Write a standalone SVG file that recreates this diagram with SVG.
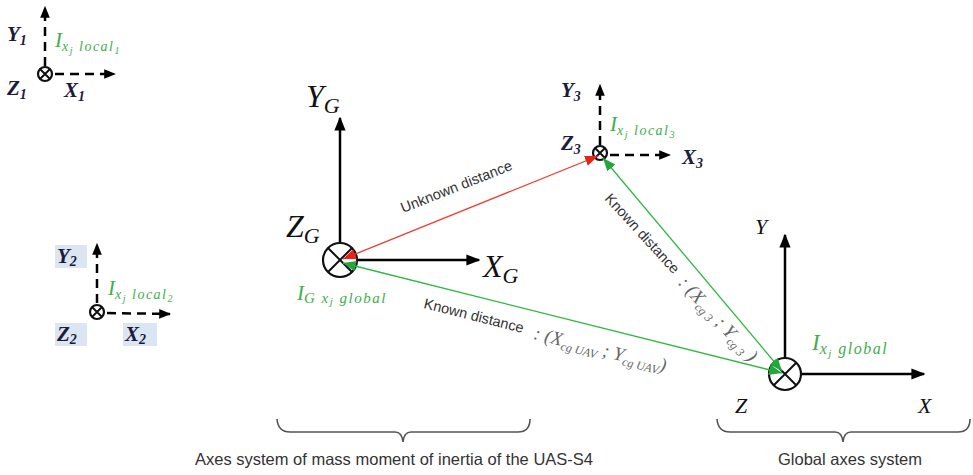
<svg xmlns="http://www.w3.org/2000/svg" width="973" height="475" viewBox="0 0 973 475">
<style>
.ax{stroke:#000;stroke-width:2.5;fill:none}
.axd{stroke:#000;stroke-width:2.5;fill:none;stroke-dasharray:9 6}
.sym{stroke:#111;stroke-width:2.2;fill:#fff}
.symx{stroke:#111;stroke-width:2;fill:none}
.lbl{font-family:"Liberation Serif",serif;font-style:italic;font-weight:bold;fill:#1c1c3a}
.big{font-family:"Liberation Serif",serif;font-style:italic;fill:#111}
.ilbl{font-family:"Liberation Serif",serif;font-style:italic;fill:#3fae49}
.sub{letter-spacing:1.5px}
.box{fill:#dbe6f2}
.dist{font-family:"Liberation Sans",Arial,sans-serif;font-size:14.5px;fill:#333}
.par{font-family:"Liberation Serif",serif;font-style:italic;fill:#666}
.cap{font-family:"Liberation Sans",Arial,sans-serif;font-size:16.5px;fill:#333}
.brace{stroke:#555;stroke-width:1.6;fill:none}
</style>
<defs>
<marker id="ah" viewBox="0 0 10 10" refX="9" refY="5" markerWidth="14" markerHeight="14" markerUnits="userSpaceOnUse" orient="auto"><path d="M0,1 L10,5 L0,9 z" fill="#000"/></marker>
<marker id="ahs" viewBox="0 0 10 10" refX="9" refY="5" markerWidth="12" markerHeight="12" markerUnits="userSpaceOnUse" orient="auto"><path d="M0,1 L10,5 L0,9 z" fill="#000"/></marker>
<marker id="ar" viewBox="0 0 10 10" refX="10" refY="5" markerWidth="13" markerHeight="13" markerUnits="userSpaceOnUse" orient="auto-start-reverse"><path d="M0,1 L10,5 L0,9 z" fill="#e8231c"/></marker>
<marker id="ag" viewBox="0 0 10 10" refX="10" refY="5" markerWidth="13" markerHeight="13" markerUnits="userSpaceOnUse" orient="auto-start-reverse"><path d="M0,1 L10,5 L0,9 z" fill="#22a83a"/></marker>
</defs>
<rect width="973" height="475" fill="#fff"/>

<g id="local1">
<line class="axd" x1="45" y1="66" x2="45" y2="7" marker-end="url(#ahs)"/>
<line class="axd" x1="55" y1="74" x2="115" y2="74" marker-end="url(#ahs)"/>
<circle class="sym" cx="45" cy="74" r="7"/>
<path class="symx" d="M40,69 L50,79 M50,69 L40,79"/>
<text class="lbl" x="7" y="41" font-size="21">Y<tspan font-size="14" dy="4">1</tspan></text>
<text class="lbl" x="7" y="95" font-size="21">Z<tspan font-size="14" dy="4">1</tspan></text>
<text class="lbl" x="64" y="97" font-size="21">X<tspan font-size="14" dy="4">1</tspan></text>
<text class="ilbl" x="55" y="47" font-size="21">I<tspan class="sub" font-size="14" dy="4">x<tspan font-size="10" dy="3">j</tspan><tspan dy="-3"> local</tspan><tspan font-size="10" dy="3">1</tspan></tspan></text>
</g>

<g id="local2">
<rect class="box" x="55" y="245" width="32" height="23"/>
<rect class="box" x="55" y="323" width="32" height="23"/>
<rect class="box" x="123" y="323" width="34" height="23"/>
<line class="axd" x1="97" y1="303" x2="97" y2="244" marker-end="url(#ahs)"/>
<line class="axd" x1="107" y1="313" x2="170" y2="314" marker-end="url(#ahs)"/>
<circle class="sym" cx="97" cy="312" r="7"/>
<path class="symx" d="M92,307 L102,317 M102,307 L92,317"/>
<text class="lbl" x="57" y="263" font-size="21">Y<tspan font-size="14" dy="3">2</tspan></text>
<text class="lbl" x="57" y="341" font-size="21">Z<tspan font-size="14" dy="3">2</tspan></text>
<text class="lbl" x="125" y="341" font-size="21">X<tspan font-size="14" dy="3">2</tspan></text>
<text class="ilbl" x="108" y="295" font-size="21">I<tspan class="sub" font-size="14" dy="4">x<tspan font-size="10" dy="3">j</tspan><tspan dy="-3"> local</tspan><tspan font-size="10" dy="3">2</tspan></tspan></text>
</g>

<g id="local3">
<line class="axd" x1="600" y1="145" x2="600" y2="85" marker-end="url(#ahs)"/>
<line class="axd" x1="610" y1="155" x2="670" y2="155" marker-end="url(#ahs)"/>
<circle class="sym" cx="600" cy="153" r="7"/>
<path class="symx" d="M595,148 L605,158 M605,148 L595,158"/>
<text class="lbl" x="561" y="97" font-size="21">Y<tspan font-size="14" dy="4">3</tspan></text>
<text class="lbl" x="561" y="150" font-size="21">Z<tspan font-size="14" dy="4">3</tspan></text>
<text class="lbl" x="682" y="164" font-size="21">X<tspan font-size="14" dy="4">3</tspan></text>
<text class="ilbl" x="610" y="131" font-size="21">I<tspan class="sub" font-size="14" dy="4">x<tspan font-size="10" dy="3">j</tspan><tspan dy="-3"> local</tspan><tspan font-size="10" dy="3">3</tspan></tspan></text>
</g>

<g id="frameG">
<line class="ax" x1="340" y1="243" x2="340" y2="118" marker-end="url(#ah)"/>
<line class="ax" x1="357" y1="260" x2="479" y2="260" marker-end="url(#ah)"/>
<circle class="sym" cx="340" cy="260" r="17"/>
<path class="symx" d="M328,248 L352,272 M352,248 L328,272"/>
<text class="big" x="306" y="107" font-size="32">Y<tspan font-size="22" dy="6">G</tspan></text>
<text class="big" x="286" y="237" font-size="32">Z<tspan font-size="22" dy="6">G</tspan></text>
<text class="big" x="483" y="277" font-size="32">X<tspan font-size="22" dy="6">G</tspan></text>
<text class="ilbl" x="297" y="300" font-size="21">I<tspan class="sub" font-size="15" dy="3">G x<tspan font-size="11" dy="2">j</tspan><tspan dy="-2"> global</tspan></tspan></text>
</g>

<g id="frameGlobal">
<line class="ax" x1="785" y1="358" x2="785" y2="235" marker-end="url(#ah)"/>
<line class="ax" x1="801" y1="374" x2="924" y2="374" marker-end="url(#ah)"/>
<circle class="sym" cx="785" cy="374" r="16"/>
<path class="symx" d="M774,363 L796,385 M796,363 L774,385"/>
<text class="big" x="755" y="234" font-size="22">Y</text>
<text class="big" x="735" y="413" font-size="22">Z</text>
<text class="big" x="918" y="413" font-size="22">X</text>
<text class="ilbl" x="812" y="350" font-size="23">I<tspan class="sub" font-size="16" dy="4">x<tspan font-size="11" dy="3">j</tspan><tspan dy="-3"> global</tspan></tspan></text>
</g>

<g id="connectors">
<line x1="343" y1="259" x2="598" y2="156" stroke="#f03a2c" stroke-width="1.3" marker-start="url(#ar)" marker-end="url(#ar)"/>
<line x1="343" y1="263" x2="782" y2="373" stroke="#2fb640" stroke-width="1.3" marker-start="url(#ag)" marker-end="url(#ag)"/>
<line x1="603" y1="158" x2="782" y2="371" stroke="#2fb640" stroke-width="1.3" marker-start="url(#ag)" marker-end="url(#ag)"/>
<text class="dist" transform="translate(403,213) rotate(-21.6)">Unknown distance</text>
<g transform="translate(423,308) rotate(14.1)">
<text class="dist" x="0" y="0">Known distance</text>
<text class="par" x="114" y="3" font-size="19">: (X<tspan font-size="12" dy="4">cg UAV</tspan><tspan dy="-4"> ; Y</tspan><tspan font-size="12" dy="4">cg UAV</tspan><tspan dy="-4">)</tspan></text>
</g>
<g transform="translate(604,199) rotate(47.5)">
<text class="dist" x="0" y="0">Known distance</text>
<text class="par" x="112" y="3" font-size="19">: (X<tspan font-size="12" dy="4">cg 3</tspan><tspan dy="-4"> ; Y</tspan><tspan font-size="12" dy="4">cg 3</tspan><tspan dy="-4"> )</tspan></text>
</g>
</g>

<g id="caption1">
<path class="brace" d="M277,419 Q278,432 290,432 L395,432 Q402,432 403,442 Q404,432 411,432 L518,432 Q530,432 530,419"/>
<text class="cap" x="195" y="465">Axes system of mass moment of inertia of the UAS-S4</text>
</g>
<g id="caption2">
<path class="brace" d="M717,419 Q718,432 730,432 L835,432 Q842,432 843,442 Q844,432 851,432 L958,432 Q970,432 970,419"/>
<text class="cap" x="778" y="465">Global axes system</text>
</g>
</svg>
